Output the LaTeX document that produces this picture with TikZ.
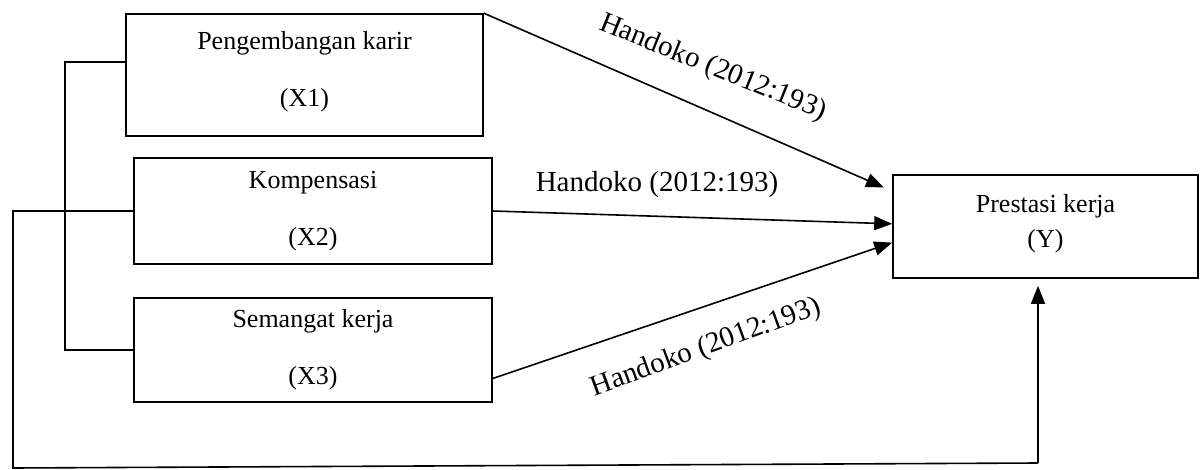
\documentclass[tikz,border=0pt]{standalone}
\usepackage{fontspec}
\setmainfont{Liberation Serif}
\usetikzlibrary{arrows.meta}
\begin{document}
\begin{tikzpicture}[x=0.5pt, y=-0.5pt, line width=0.8pt,
    box/.style={draw, rectangle, inner sep=0pt, align=center, font=\fontsize{13}{17.5}\selectfont},
    arr/.style={-{Triangle[length=9pt, width=7pt]}},
    cite/.style={inner sep=0pt, font=\fontsize{14.5}{17}\selectfont}]
        \useasboundingbox (0, 0) rectangle (1203, 470);

        \node[box, minimum width=178.5pt, minimum height=61pt, text depth=6pt] (x1) at (304.5, 75) {Pengembangan karir\\[11pt](X1)};
        \node[box, minimum width=179pt, minimum height=53pt] (x2) at (313, 211) {Kompensasi\\[11pt](X2)};
        \node[box, minimum width=179pt, minimum height=52pt] (x3) at (313, 350) {Semangat kerja\\[11pt](X3)};
        \node[box, minimum width=152.5pt, minimum height=51.5pt, text depth=6pt] (y) at (1045.5, 226.5) {Prestasi kerja\\(Y)};

        \draw ([yshift=6.5pt]x1.west) -- (65, 62) |- (x3.west);
        \coordinate (c4) at (1038, 463);
        \draw (x2.west) -| (13, 468) -- (c4);

        \draw[arr, shorten >=4.5pt] (x1.north east) -- (y.167);
        \draw[arr] (x2.east) -- (y.179);
        \draw[arr] (x3.-9) -- (y.186);
        \draw[arr] (c4) -- ([xshift=-3.75pt, yshift=-3.5pt]y.south);

        \node[cite, rotate=-22] (h1) at (713, 68) {Handoko (2012:193)};
        \node[cite] (h2) at (657, 185) {Handoko (2012:193)};
        \node[cite, rotate=20] (h3) at (706, 348) {Handoko (2012:193)};
\end{tikzpicture}
\end{document}
